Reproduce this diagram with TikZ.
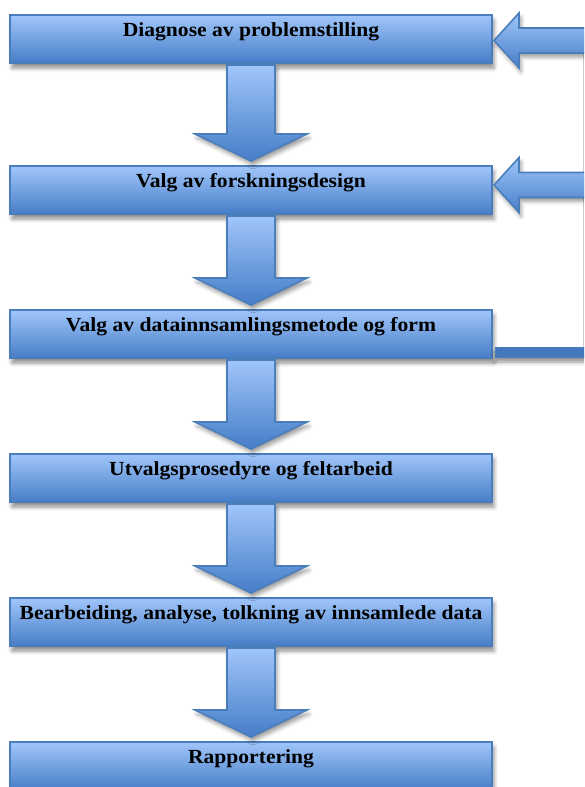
\documentclass[tikz,border=0pt]{standalone}
\usepackage{fontspec}
\setmainfont{Liberation Serif}
\newfontfamily\stepfont[FakeStretch=1.08]{Liberation Serif}
\usetikzlibrary{calc,shadows.blur}

\definecolor{boxtop}{HTML}{A0C6FA}
\definecolor{boxbot}{HTML}{467DC8}
\definecolor{boxline}{HTML}{4A7EBB}
\definecolor{fbline}{HTML}{CCCCCC}

\tikzset{
  stepbox/.style={
    rectangle, draw=boxline, line width=2pt,
    top color=boxtop, bottom color=boxbot,
    minimum width=482pt, minimum height=48pt,
    inner xsep=0pt, inner ysep=0pt,
    text height=21pt, text depth=27pt,
    font=\stepfont\fontsize{20}{22}\selectfont\bfseries,
    blur shadow={shadow xshift=2pt, shadow yshift=-5pt,
                 shadow blur radius=4pt, shadow opacity=45}},
  fatarrow/.style={
    draw=boxline, line width=1.6pt, line join=miter,
    top color=boxtop, bottom color=boxbot,
    blur shadow={shadow xshift=2pt, shadow yshift=-4pt,
                 shadow blur radius=4pt, shadow opacity=40}},
  feedbar/.style={
    fill=boxbot!95!black, draw=boxline, line width=0.8pt,
    blur shadow={shadow xshift=0pt, shadow yshift=-5pt,
                 shadow blur radius=4pt, shadow opacity=45}}
}

% broad arrow pointing down from one box to the next
\newcommand\flowarrow[2]{%
  \path[fatarrow] let \p1=(#1.south), \p2=(#2.north) in
    (\x1-24pt,\y1-1pt) -- (\x1+24pt,\y1-1pt) -- (\x1+24pt,\y2+31pt)
    -- (\x1+56pt,\y2+31pt) -- (\x1,\y2+4pt) -- (\x1-56pt,\y2+31pt)
    -- (\x1-24pt,\y2+31pt) -- cycle;}

% broad arrow entering a box from the right, #2 = vertical offset
\newcommand\returnarrow[3]{%
  \path[fatarrow] let \p1=([yshift=#2]#1.east), \p2=(#3) in
    (\x1+1pt,\y1) -- (\x1+26pt,\y1+27.5pt) -- (\x1+26pt,\y1+12.5pt)
    -- (\x2,\y1+12.5pt) -- (\x2,\y1-12.5pt) -- (\x1+26pt,\y1-12.5pt)
    -- (\x1+26pt,\y1-27.5pt) -- cycle;}

\begin{document}
\begin{tikzpicture}[x=1pt,y=-1pt]
  \useasboundingbox (0,0) rectangle (584,787);
  \clip (0,0) rectangle (584,787);

  % feedback route along the right edge
  \coordinate (fbtop) at (583,53);
  \coordinate (fbcorner) at (583,347);
  \coordinate (fbend) at (600,352);
  \draw[fbline, line width=1pt] (fbtop) -- (fbcorner);

  % process steps
  \node[stepbox] (b1) at (251,39)  {Diagnose av problemstilling};
  \node[stepbox] (b2) at (251,190) {Valg av forskningsdesign};
  \node[stepbox] (b3) at (251,334) {Valg av datainnsamlingsmetode og form};
  \node[stepbox] (b4) at (251,478) {Utvalgsprosedyre og feltarbeid};
  \node[stepbox] (b5) at (251,622) {Bearbeiding, analyse, tolkning av innsamlede data};
  \node[stepbox] (b6) at (251,766) {Rapportering};

  % bar leaving step 3 towards the right edge
  \path[feedbar] let \p1=(b3.east), \p2=(fbend) in
    (\x1+2pt,-347pt) rectangle (\x2,-357pt);

  % arrows between steps
  \flowarrow{b1}{b2}
  \flowarrow{b2}{b3}
  \flowarrow{b3}{b4}
  \flowarrow{b4}{b5}
  \flowarrow{b5}{b6}

  % arrows coming back from the right
  \returnarrow{b1}{-1.5pt}{fbend}
  \returnarrow{b2}{5pt}{fbend}
\end{tikzpicture}
\end{document}
